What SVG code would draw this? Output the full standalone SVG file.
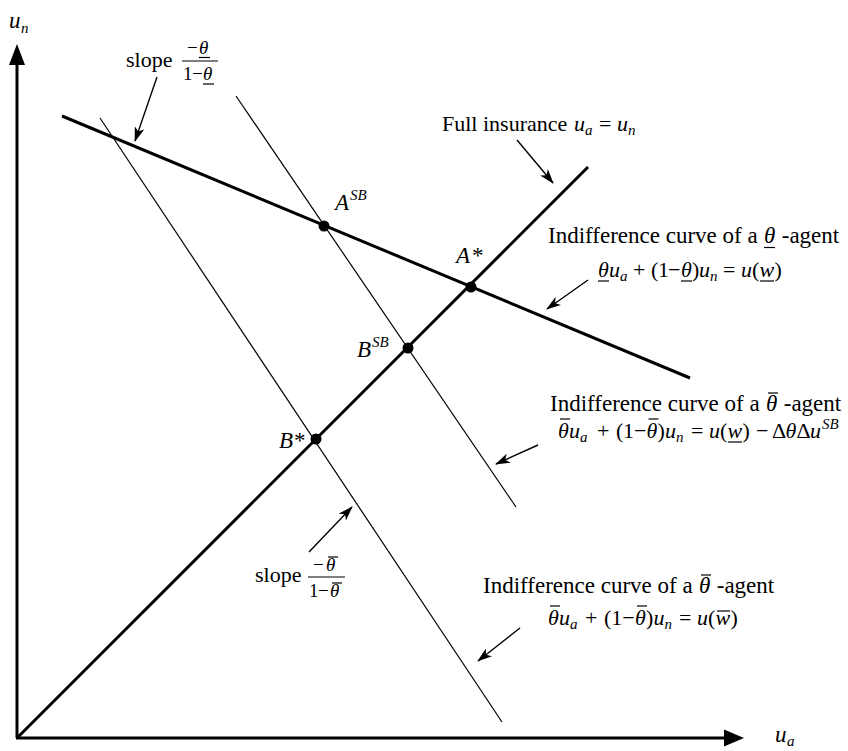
<svg xmlns="http://www.w3.org/2000/svg" width="848" height="751" viewBox="0 0 848 751">
<style>
text{font-family:"Liberation Serif","Times New Roman",serif;fill:#000;font-size:22px}
.L{font-size:23px}
.i{font-style:italic}
.s{font-size:15px}
.f{font-size:19px}
.thick{stroke:#000;stroke-width:3;fill:none}
.thin{stroke:#000;stroke-width:1.2;fill:none}
.call{stroke:#000;stroke-width:1.4;fill:none;marker-end:url(#ah)}
.bar{stroke:#000;stroke-width:1.2}
</style>
<defs>
<marker id="ah" viewBox="0 0 15 10" refX="14" refY="5" markerWidth="15" markerHeight="10" markerUnits="userSpaceOnUse" orient="auto">
<path d="M0,0 L15,5 L0,10 L4,5 z" fill="#000"/>
</marker>
</defs>
<g id="axes">
<line class="thick" x1="17" y1="738" x2="17" y2="62"/>
<polygon points="17,44 9,65 25,65" fill="#000"/>
<line class="thick" x1="16" y1="738" x2="726" y2="738"/>
<polygon points="744,738 724,729.5 724,746.5" fill="#000"/>
<text x="9" y="28" class="i L">u<tspan class="s" x="21" y="33">n</tspan></text>
<text x="775" y="742" class="i L">u<tspan class="s" x="787" y="746">a</tspan></text>
</g>
<g id="connectors">
<line id="full-insurance-line" class="thick" x1="17" y1="738" x2="588" y2="167"/>
<line id="theta-low-curve" class="thick" x1="62" y1="116" x2="690" y2="378"/>
<line id="theta-bar-curve-w" class="thin" x1="100" y1="118" x2="502" y2="722"/>
<line id="theta-bar-curve-sb" class="thin" x1="236" y1="96" x2="516" y2="507"/>
<line class="call" x1="157" y1="77" x2="135" y2="141"/>
<line class="call" x1="517" y1="140" x2="553" y2="183"/>
<line class="call" x1="588" y1="280" x2="547" y2="309"/>
<line class="call" x1="538" y1="445" x2="496" y2="464"/>
<line class="call" x1="520" y1="628" x2="478" y2="661"/>
<line class="call" x1="309" y1="552" x2="352" y2="507"/>
</g>
<g id="point-ASB">
<circle cx="324" cy="226" r="5.5"/>
<text x="335" y="210" class="i L">A<tspan class="s" x="350" y="200">SB</tspan></text>
</g>
<g id="point-Astar">
<circle cx="471" cy="287" r="5.5"/>
<text x="456" y="263" class="i L">A<tspan x="472" font-style="normal">*</tspan></text>
</g>
<g id="point-BSB">
<circle cx="408" cy="348" r="5.5"/>
<text x="357" y="357" class="i L">B<tspan class="s" x="372" y="347">SB</tspan></text>
</g>
<g id="point-Bstar">
<circle cx="316" cy="439" r="5.5"/>
<text x="279" y="448" class="i L">B<tspan x="294" font-style="normal">*</tspan></text>
</g>
<g id="label-slope-top">
<text x="126" y="67">slope</text>
<text y="54" class="f"><tspan x="187">−</tspan><tspan x="199" class="i">θ</tspan></text>
<line class="bar" x1="199" y1="57.5" x2="210" y2="57.5"/>
<line class="bar" x1="182" y1="61" x2="218" y2="61"/>
<text y="80" class="f"><tspan x="183">1</tspan><tspan x="192">−</tspan><tspan x="203" class="i">θ</tspan></text>
<line class="bar" x1="203" y1="84" x2="214" y2="84"/>
</g>
<g id="label-full-insurance">
<text x="442" y="131">Full insurance <tspan class="i" x="574">u</tspan><tspan class="i s" x="585" y="135">a</tspan><tspan x="599" y="131">=</tspan><tspan class="i" x="617">u</tspan><tspan class="i s" x="628" y="135">n</tspan></text>
</g>
<g id="label-theta-low">
<text x="548" y="243" class="L">Indifference curve of a <tspan class="i" x="764">θ</tspan><tspan x="776"> -agent</tspan></text>
<line class="bar" x1="764" y1="247.5" x2="775" y2="247.5"/>
<text y="277"><tspan class="i" x="598">θ</tspan><tspan class="i" x="609">u</tspan><tspan class="i s" x="620" y="281">a</tspan><tspan x="633" y="277">+</tspan><tspan x="651">(</tspan><tspan x="658">1</tspan><tspan x="668">−</tspan><tspan class="i" x="681">θ</tspan><tspan x="692">)</tspan><tspan class="i" x="699">u</tspan><tspan class="i s" x="710" y="281">n</tspan><tspan x="723" y="277">=</tspan><tspan class="i" x="741">u</tspan><tspan x="752">(</tspan><tspan class="i" x="759.5">w</tspan><tspan x="774.5">)</tspan></text>
<line class="bar" x1="598" y1="281" x2="609" y2="281"/>
<line class="bar" x1="681" y1="281" x2="692" y2="281"/>
<line class="bar" x1="760" y1="281" x2="774" y2="281"/>
</g>
<g id="label-theta-bar-sb">
<text x="550" y="411" class="L">Indifference curve of a <tspan class="i" x="766">θ</tspan><tspan x="778"> -agent</tspan></text>
<line class="bar" x1="768" y1="393" x2="778" y2="393"/>
<text y="438"><tspan class="i" x="558">θ</tspan><tspan class="i" x="569">u</tspan><tspan class="i s" x="580" y="442">a</tspan><tspan x="597" y="438">+</tspan><tspan x="616">(</tspan><tspan x="623">1</tspan><tspan x="634">−</tspan><tspan class="i" x="646.5">θ</tspan><tspan x="657.5">)</tspan><tspan class="i" x="665">u</tspan><tspan class="i s" x="676" y="442">n</tspan><tspan x="691" y="438">=</tspan><tspan class="i" x="709">u</tspan><tspan x="720">(</tspan><tspan class="i" x="727.5">w</tspan><tspan x="742.5">)</tspan><tspan x="756">−</tspan><tspan x="772">Δ</tspan><tspan class="i" x="785.5">θ</tspan><tspan x="796.5">Δ</tspan><tspan class="i" x="810">u</tspan><tspan class="i s" x="822" y="429">SB</tspan></text>
<line class="bar" x1="560" y1="419" x2="570" y2="419"/>
<line class="bar" x1="648.5" y1="419" x2="658.5" y2="419"/>
<line class="bar" x1="728" y1="442" x2="742" y2="442"/>
</g>
<g id="label-theta-bar-w">
<text x="483" y="593" class="L">Indifference curve of a <tspan class="i" x="699">θ</tspan><tspan x="711"> -agent</tspan></text>
<line class="bar" x1="701" y1="575" x2="711" y2="575"/>
<text y="625"><tspan class="i" x="548">θ</tspan><tspan class="i" x="559">u</tspan><tspan class="i s" x="570" y="629">a</tspan><tspan x="585" y="625">+</tspan><tspan x="604">(</tspan><tspan x="611.3">1</tspan><tspan x="622.3">−</tspan><tspan class="i" x="635">θ</tspan><tspan x="646">)</tspan><tspan class="i" x="653.5">u</tspan><tspan class="i s" x="664.5" y="629">n</tspan><tspan x="679" y="625">=</tspan><tspan class="i" x="697">u</tspan><tspan x="708">(</tspan><tspan class="i" x="715.5">w</tspan><tspan x="730.5">)</tspan></text>
<line class="bar" x1="550" y1="606" x2="560" y2="606"/>
<line class="bar" x1="637" y1="606" x2="647" y2="606"/>
<line class="bar" x1="717" y1="611" x2="730" y2="611"/>
</g>
<g id="label-slope-bottom">
<text x="255" y="582">slope</text>
<text y="571" class="f"><tspan x="313">−</tspan><tspan x="326" class="i">θ</tspan></text>
<line class="bar" x1="328" y1="557" x2="338" y2="557"/>
<line class="bar" x1="308" y1="577" x2="345" y2="577"/>
<text y="597" class="f"><tspan x="309">1</tspan><tspan x="318">−</tspan><tspan x="330" class="i">θ</tspan></text>
<line class="bar" x1="332" y1="583" x2="342" y2="583"/>
</g>
</svg>
